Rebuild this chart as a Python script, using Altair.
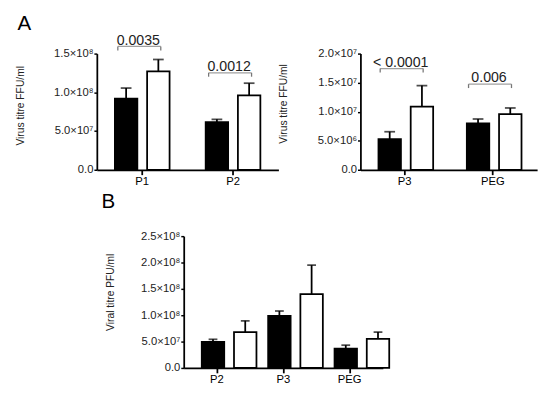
import altair as alt
import pandas as pd

FONT = "Liberation Sans"

# ---- Panel A (left) ----
a1_cats = ["P1", "P2"]
a1_black = [0.92e8, 0.614e8]
a1_black_sd = [0.135e8, 0.038e8]
a1_white = [1.27e8, 0.962e8]
a1_white_sd = [0.154e8, 0.156e8]
a1_ticks = [0, 0.5e8, 1.0e8, 1.5e8]
a1_pval_y = [1.592e8, 1.252e8]
a1_pval = ["0.0035", "0.0012"]

# ---- Panel A (right) ----
a2_cats = ["P3", "PEG"]
a2_black = [0.526e7, 0.80e7]
a2_black_sd = [0.129e7, 0.074e7]
a2_white = [1.087e7, 0.958e7]
a2_white_sd = [0.363e7, 0.106e7]
a2_ticks = [0, 0.5e7, 1.0e7, 1.5e7, 2.0e7]
a2_pval_y = [1.743e7, 1.474e7]
a2_pval = ["< 0.0001", "0.006"]

# ---- Panel B ----
b_cats = ["P2", "P3", "PEG"]
b_black = [0.494e8, 0.987e8, 0.365e8]
b_black_sd = [0.049e8, 0.093e8, 0.067e8]
b_white = [0.68e8, 1.40e8, 0.55e8]
b_white_sd = [0.215e8, 0.55e8, 0.13e8]
b_ticks = [0, 0.5e8, 1.0e8, 1.5e8, 2.0e8, 2.5e8]

LABEL_EXPR = (
    "datum.value == 0 ? '0.0' : "
    "format(datum.value / pow(10, floor(log(datum.value)/LN10 + 1e-6)), '.1f') + '×10' + "
    "['⁰','¹','²','³','⁴','⁵','⁶','⁷','⁸','⁹'][floor(log(datum.value)/LN10 + 1e-6)]"
)


def panel(cats, bm, bs, wm, ws, ticks, ytitle, width, height, pin, pout,
          cap, title=None, title_offset=0, title_dx=0, pv_y=None, pv=None,
          title_y=None, title_pad=29):
    rows = []
    for c, m, s in zip(cats, bm, bs):
        rows.append({"cat": c, "grp": "black", "mean": m, "upper": m + s})
    for c, m, s in zip(cats, wm, ws):
        rows.append({"cat": c, "grp": "white", "mean": m, "upper": m + s})
    df = pd.DataFrame(rows)

    xaxis = alt.Axis(labelAngle=0, labelFontSize=11.5, labelFont=FONT,
                     labelColor="black", tickSize=5, tickWidth=1.8,
                     tickColor="black", domainColor="black",
                     domainWidth=1.8, labelPadding=1)
    xenc = alt.X("cat:N", sort=cats, title=None,
                 scale=alt.Scale(paddingInner=0, paddingOuter=0), axis=xaxis)
    xoff = alt.XOffset("grp:N", sort=["black", "white"],
                       scale=alt.Scale(paddingInner=pin, paddingOuter=pout))
    ykw = {"titleY": title_y} if title_y is not None else {}
    yaxis = alt.Axis(values=ticks, labelExpr=LABEL_EXPR, grid=False,
                     labelOverlap=False,
                     labelFontSize=11.5, labelFont=FONT, labelColor="#222",
                     tickSize=3, tickWidth=1.5, tickColor="black",
                     domainColor="black", domainWidth=1.8, labelPadding=1,
                     title=ytitle, titleFont=FONT, titleFontSize=10.5,
                     titleFontWeight="normal", titleColor="#222",
                     titlePadding=title_pad, **ykw)
    yscale = alt.Scale(domain=[0, ticks[-1]], nice=False)

    def Y(field):
        return alt.Y(field, scale=yscale, axis=yaxis)

    base = alt.Chart(df)
    err = base.mark_rule(color="black", strokeWidth=1.8).encode(
        x=xenc, xOffset=xoff, y=Y("mean:Q"), y2="upper:Q")
    capm = base.mark_tick(color="black", size=cap, thickness=1.8).encode(
        x=xenc, xOffset=xoff, y=Y("upper:Q"))
    bars = base.mark_bar(stroke="black", strokeWidth=1.8).encode(
        x=xenc, xOffset=xoff, y=Y("mean:Q"),
        fill=alt.Fill("grp:N", scale=alt.Scale(domain=["black", "white"],
                                               range=["black", "white"]),
                      legend=None))
    layers = [err, capm, bars]

    if pv is not None:
        adf = pd.DataFrame({"cat": cats, "y": pv_y, "label": pv})
        ab = alt.Chart(adf)
        ax = alt.X("cat:N", sort=cats, title=None, axis=xaxis)
        hline = ab.mark_tick(color="#777", thickness=1.3, size=44,
                             xOffset=-3).encode(x=ax, y=Y("y:Q"))
        lend = ab.mark_rule(color="#777", strokeWidth=1.3, xOffset=-25,
                            y2Offset=4).encode(x=ax, y=Y("y:Q"), y2="y:Q")
        rend = ab.mark_rule(color="#777", strokeWidth=1.3, xOffset=19,
                            y2Offset=4).encode(x=ax, y=Y("y:Q"), y2="y:Q")
        txt = ab.mark_text(fontSize=14.5, font=FONT, color="#222",
                           baseline="alphabetic", dy=-2, xOffset=-4).encode(
            x=ax, y=Y("y:Q"), text="label:N")
        layers += [hline, lend, rend, txt]

    props = dict(width=width, height=height)
    if title is not None:
        props["title"] = alt.TitleParams(title, anchor="start", frame="bounds",
                                         fontSize=21, font=FONT,
                                         fontWeight="normal", color="black",
                                         offset=title_offset, dy=-5,
                                         dx=title_dx)
    return alt.layer(*layers).properties(**props)


a1 = panel(a1_cats, a1_black, a1_black_sd, a1_white, a1_white_sd, a1_ticks,
           "Virus titre FFU/ml", 186, 119, 0.303, 0.56, 11, title="A",
           title_offset=-6, title_dx=2, pv_y=a1_pval_y, pv=a1_pval,
           title_y=53)
a2 = panel(a2_cats, a2_black, a2_black_sd, a2_white, a2_white_sd, a2_ticks,
           "Virus titre FFU/ml", 181, 119, 0.303, 0.53, 11,
           pv_y=a2_pval_y, pv=a2_pval, title_y=51)
b = panel(b_cats, b_black, b_black_sd, b_white, b_white_sd, b_ticks,
          "Viral titre PFU/ml", 204, 135, 0.308, 0.46, 9, title="B",
          title_offset=14, title_dx=-4, title_y=57, title_pad=26)

spacer = alt.Chart(pd.DataFrame({"a": [0]})).mark_rule(
    opacity=0, strokeWidth=0).encode(
    x=alt.value(0), x2=alt.value(1), y=alt.value(0)).properties(width=4, height=1)

top = alt.hconcat(a1, a2, spacing=0)
bottom = alt.hconcat(spacer, b, spacing=0)
chart = alt.vconcat(top, bottom, spacing=4).properties(
    padding={"left": 7, "top": 0, "right": 5, "bottom": 5},
    background="white",
).configure_view(stroke=None).configure_axis(labelOverlap=False)

chart.save("out.html", embed_options={"renderer": "svg", "actions": False})
